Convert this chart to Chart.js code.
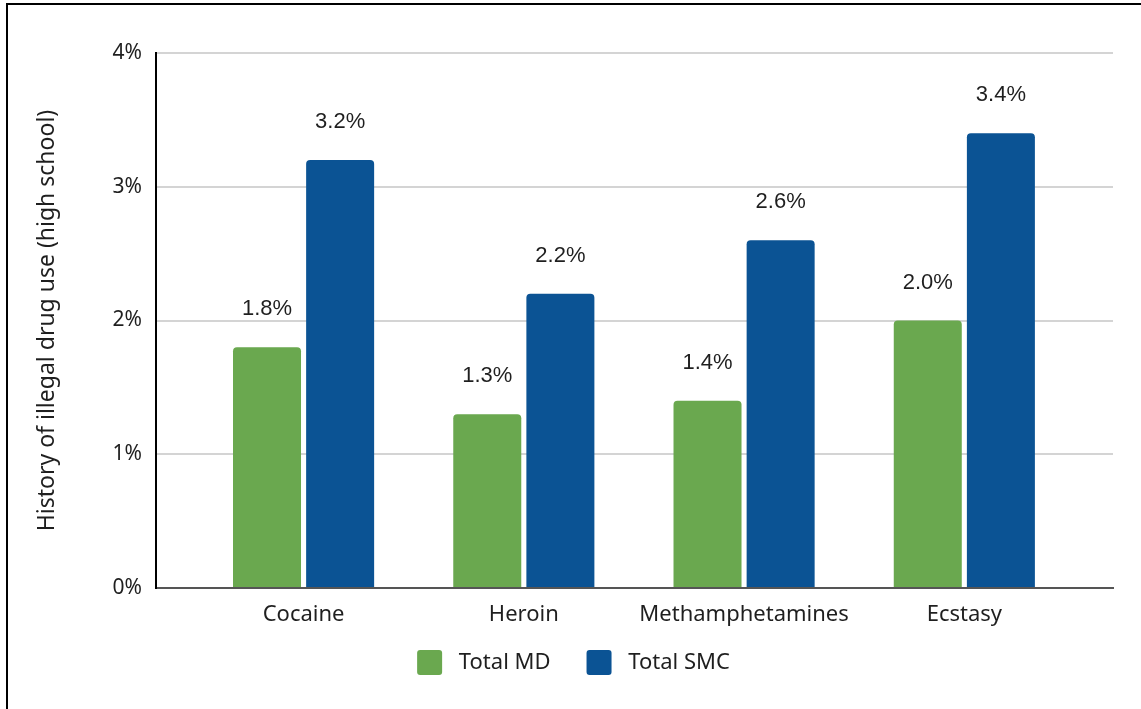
<!DOCTYPE html>
<html>
<head>
<meta charset="utf-8">
<title>History of illegal drug use (high school)</title>
<script src="https://cdn.jsdelivr.net/npm/chart.js@4.4.1/dist/chart.umd.min.js"></script>
<style>
  html, body { margin: 0; padding: 0; background: #fff; }
  #wrap { position: relative; width: 1141px; height: 709px; overflow: hidden; }
  #wrap canvas { position: absolute; left: 0; top: 0; }
  #frame {
    position: absolute; left: 6px; top: 3px; right: -10px; bottom: -10px;
    border-left: 2px solid #000; border-top: 2px solid #000; pointer-events: none;
  }
</style>
</head>
<body>
<div id="wrap">
  <canvas id="chart" width="1141" height="709"></canvas>
  <div id="frame"></div>
</div>
<script>
// Drug categories and the share of students reporting use, in percent
const drugs = ['Cocaine', 'Heroin', 'Methamphetamines', 'Ecstasy'];
const totalMD = [1.8, 1.3, 1.4, 2.0];
const totalSMC = [3.2, 2.2, 2.6, 3.4];
const yTickValues = [0, 1, 2, 3, 4];
const seriesNames = ['Total MD', 'Total SMC'];

const GREEN = '#6aa84f';
const BLUE = '#0b5394';
const TEXT = '#1f1f1f';
const SANS = '"Noto Sans", "Open Sans", sans-serif';

const toPoints = (values) => values.map((v, i) => ({ x: i, y: v }));

// Writes each bar's value above it
const valueLabels = {
  id: 'valueLabels',
  afterDatasetsDraw(chart) {
    const { ctx } = chart;
    ctx.save();
    ctx.font = '22px "Liberation Sans", Arial, sans-serif';
    ctx.fillStyle = TEXT;
    ctx.textAlign = 'center';
    ctx.textBaseline = 'alphabetic';
    chart.data.datasets.forEach((ds, di) => {
      chart.getDatasetMeta(di).data.forEach((bar, i) => {
        ctx.fillText(ds.data[i].y.toFixed(1) + '%', bar.x, bar.y - 32);
      });
    });
    ctx.restore();
  }
};

new Chart(document.getElementById('chart'), {
  type: 'bar',
  data: {
    datasets: [
      { label: seriesNames[0], data: toPoints(totalMD), backgroundColor: GREEN, borderColor: GREEN },
      { label: seriesNames[1], data: toPoints(totalSMC), backgroundColor: BLUE, borderColor: BLUE }
    ]
  },
  options: {
    responsive: false,
    animation: false,
    events: [],
    categoryPercentage: 0.664,
    barPercentage: 0.93,
    borderWidth: 0,
    borderRadius: 4,
    layout: { padding: { left: 34, top: 53, right: 28, bottom: 24 } },
    scales: {
      x: {
        type: 'linear',
        offset: false,
        min: -0.67,
        max: 3.675,
        afterBuildTicks(scale) {
          scale.ticks = drugs.map((_, i) => ({ value: i }));
        },
        afterFit(scale) { scale.height = 48; },
        grid: { display: false, drawTicks: false, offset: false },
        border: { color: '#555', width: 2 },
        ticks: {
          autoSkip: false,
          maxRotation: 0,
          padding: 14,
          color: TEXT,
          font: { family: SANS, size: 22 },
          callback: (v) => drugs[v] ?? ''
        }
      },
      y: {
        min: yTickValues[0],
        max: yTickValues[yTickValues.length - 1],
        afterBuildTicks(scale) {
          scale.ticks = yTickValues.map((v) => ({ value: v }));
        },
        afterFit(scale) { scale.width = 122; },
        grid: { color: '#d4d4d4', lineWidth: 2, drawTicks: false },
        border: { color: '#000', width: 2 },
        ticks: {
          padding: 14,
          color: TEXT,
          font: { family: SANS, size: 21 },
          callback: (v) => v + '%'
        },
        title: {
          display: true,
          text: 'History of illegal drug use (high school)',
          color: TEXT,
          font: { family: SANS, size: 23 },
          padding: { top: 0, bottom: 0 }
        }
      }
    },
    plugins: {
      tooltip: { enabled: false },
      legend: {
        position: 'bottom',
        labels: {
          boxWidth: 25,
          boxHeight: 25,
          padding: 14,
          useBorderRadius: true,
          borderRadius: 3,
          color: TEXT,
          font: { family: SANS, size: 22 },
          generateLabels(chart) {
            const items = Chart.defaults.plugins.legend.labels.generateLabels(chart);
            items.forEach((it, i) => {
              it.text = ' ' + it.text + (i === 0 ? '\u2003' : '');
              it.lineWidth = 0;
            });
            return items;
          }
        }
      }
    }
  },
  plugins: [valueLabels]
});
</script>
</body>
</html>
